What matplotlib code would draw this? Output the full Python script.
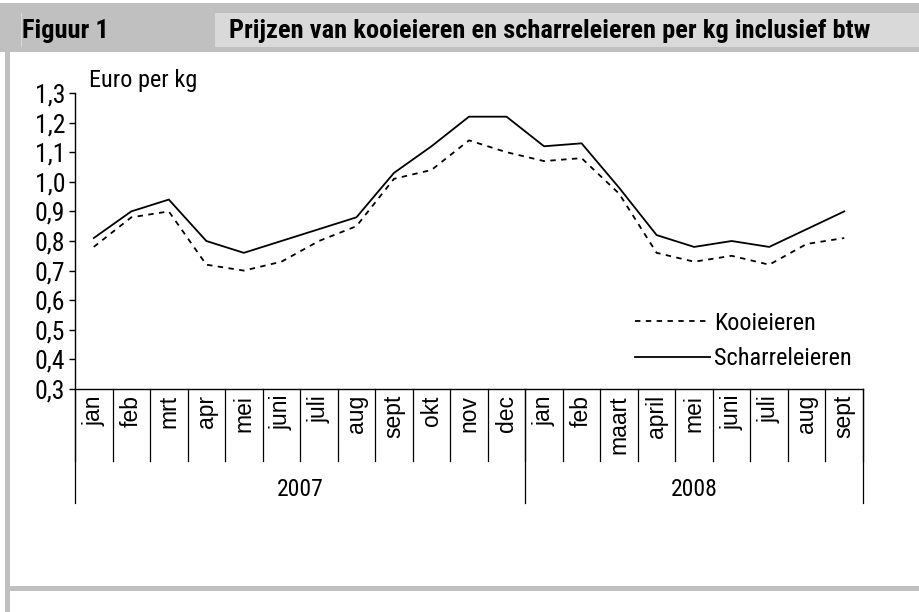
import matplotlib
matplotlib.use("Agg")
import matplotlib.pyplot as plt
from matplotlib.patches import Rectangle
from matplotlib.transforms import blended_transform_factory
from matplotlib.ticker import FuncFormatter
from matplotlib import font_manager

months = ["jan", "feb", "mrt", "apr", "mei", "juni", "juli", "aug", "sept", "okt", "nov", "dec",
          "jan", "feb", "maart", "april", "mei", "juni", "juli", "aug", "sept"]
years = ["2007", "2008"]
year_counts = [12, 9]
kooi = [0.78, 0.88, 0.90, 0.72, 0.70, 0.73, 0.80, 0.85, 1.01, 1.04, 1.14, 1.10,
        1.07, 1.08, 0.96, 0.76, 0.73, 0.75, 0.72, 0.79, 0.81]
scharrel = [0.81, 0.90, 0.94, 0.80, 0.76, 0.80, 0.84, 0.88, 1.03, 1.12, 1.22, 1.22,
            1.12, 1.13, 0.98, 0.82, 0.78, 0.80, 0.78, 0.84, 0.90]

# pick a narrow sans family with static regular and bold faces
pref = ['Liberation Sans Narrow', 'Roboto Condensed', 'Open Sans Condensed',
        'Noto Sans Condensed', 'Asap Condensed', 'Barlow Semi Condensed']
ttf = font_manager.fontManager.ttflist
NARROW = 'DejaVu Sans'
for fam in pref:
    ws = {f.weight for f in ttf if f.name == fam and f.style == 'normal'}
    if 400 in ws and 700 in ws:
        NARROW = fam
        break
WIDE = ['Liberation Sans', 'Arimo', 'DejaVu Sans']

W, H = 919, 612
fig = plt.figure(figsize=(W / 100, H / 100), dpi=100)
fig.patch.set_facecolor('white')

def px_rect(x0, y0, x1, y1, color):
    fig.patches.append(Rectangle((x0 / W, 1 - y1 / H), (x1 - x0) / W, (y1 - y0) / H,
                                 transform=fig.transFigure, facecolor=color,
                                 edgecolor='none', zorder=0))

gray = '#c0c0c0'
px_rect(0, 3, W, 52, gray)
px_rect(215, 13, W, 47, '#d9d9d9')
px_rect(20.5, 13, 21.5, 47, '#d9d9d9')
px_rect(5, 52, 10, H, gray)
px_rect(5, 586, W, 591, gray)

fig.text(22 / W, 1 - 31 / H, "Figuur 1", fontsize=19, fontweight='bold', family=NARROW,
         ha='left', va='center')
fig.text(229 / W, 1 - 31 / H, "Prijzen van kooieieren en scharreleieren per kg inclusief btw",
         fontsize=19, fontweight='bold', family=NARROW, ha='left', va='center')

ax_l, ax_r, ax_t, ax_b = 75, 863, 93, 389
ax = fig.add_axes([ax_l / W, 1 - ax_b / H, (ax_r - ax_l) / W, (ax_b - ax_t) / H])
ax.set_facecolor('none')
x = list(range(len(months)))
ax.plot(x, kooi, color='black', lw=1.3, linestyle=(0, (3, 3)), label='Kooieieren')
ax.plot(x, scharrel, color='black', lw=1.3, label='Scharreleieren')
ax.set_xlim(-0.5, len(months) - 0.5)
ax.set_ylim(0.3, 1.3)
ax.set_yticks([0.3 + 0.1 * i for i in range(11)])
ax.yaxis.set_major_formatter(FuncFormatter(lambda v, p: f"{v:.1f}".replace('.', ',')))
ax.tick_params(axis='y', direction='out', length=4, width=1, labelsize=18.5, pad=3)
for lab in ax.get_yticklabels():
    lab.set_family(NARROW)
ax.set_xticks([])
for s in ['top', 'right']:
    ax.spines[s].set_visible(False)
for s in ['left', 'bottom']:
    ax.spines[s].set_linewidth(1)

tr = blended_transform_factory(ax.transData, ax.transAxes)
ah = ax_b - ax_t
month_bot = -(461 - ax_b) / ah
year_bot = -(503 - ax_b) / ah
for i in range(len(months) + 1):
    ax.plot([i - 0.5, i - 0.5], [0, month_bot], color='black', lw=0.9,
            transform=tr, clip_on=False)
for i, m in enumerate(months):
    ax.text(i, -(395 - ax_b) / ah, m, rotation=90, ha='center', va='top',
            fontsize=16.5, family=WIDE, transform=tr)
start = 0
for yr, n in zip(years, year_counts):
    ax.plot([start - 0.5, start - 0.5], [0, year_bot], color='black', lw=0.9,
            transform=tr, clip_on=False)
    ax.text(start - 0.5 + n / 2, -(490 - ax_b) / ah, yr, ha='center', va='center',
            fontsize=17, family=NARROW, transform=tr)
    start += n
ax.plot([start - 0.5, start - 0.5], [0, year_bot], color='black', lw=0.9,
        transform=tr, clip_on=False)

fig.text(89 / W, 1 - 81 / H, "Euro per kg", fontsize=17.5, family=NARROW, ha='left', va='center')

leg = ax.legend(loc='upper left', bbox_to_anchor=(635 / W, 1 - 312 / H),
                bbox_transform=fig.transFigure, frameon=False, handlelength=3.1,
                handletextpad=0.15, labelspacing=0.5, borderaxespad=0, borderpad=0,
                prop={'family': NARROW, 'size': 17.5})

fig.savefig('out.png', dpi=100)
